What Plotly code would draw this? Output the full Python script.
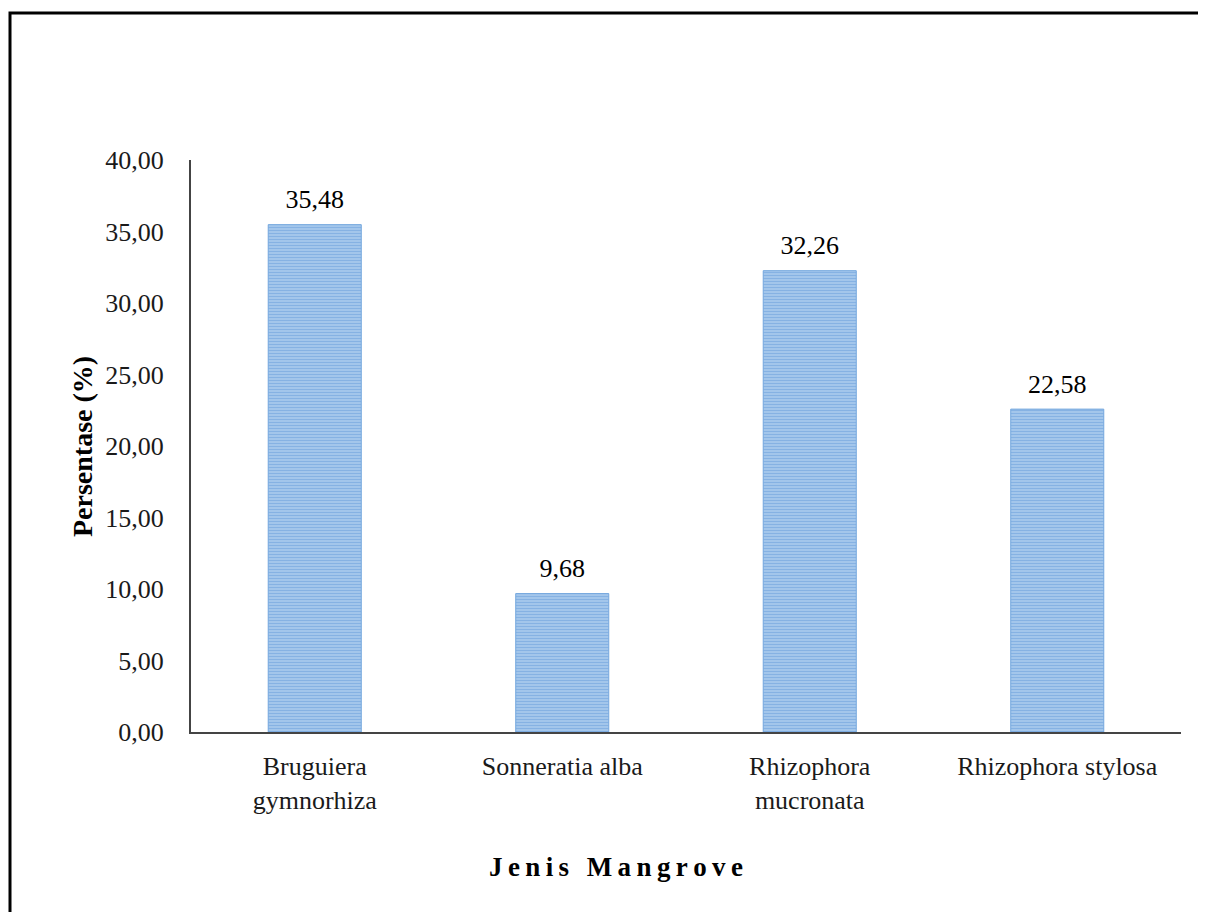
import plotly.graph_objects as go

categories = ["Bruguiera<br>gymnorhiza", "Sonneratia alba", "Rhizophora<br>mucronata", "Rhizophora stylosa"]
values = [35.48, 9.68, 32.26, 22.58]
y_ticks = [0, 5, 10, 15, 20, 25, 30, 35, 40]

FONT = "Liberation Serif, Times New Roman, serif"

OFF = 8  # page body margin
W, H = 1206 - OFF, 912 - OFF
L, T = 191 - OFF, 160 - OFF
R = W - (1181 - OFF)
B = H - (732 - OFF)
pw, ph = W - L - R, H - T - B

def px_x(p):
    return (p - OFF - L) / pw

def px_y(p):
    return (H - B - (p - OFF)) / ph

fig = go.Figure()
fig.add_trace(go.Bar(
    x=categories,
    y=values,
    width=0.376,
    marker=dict(
        color="#8DB6E3",
        line=dict(color="#74A7DE", width=1),
        pattern=dict(shape="-", fgcolor="#5F98D8", bgcolor="#ADCDEE", size=3, solidity=0.5),
    ),
    hoverinfo="skip",
))
fig.add_trace(go.Scatter(
    x=categories,
    y=values,
    mode="markers+text",
    marker=dict(size=14, opacity=0),
    texttemplate="%{y:.2f}",
    textposition="top center",
    textfont=dict(family=FONT, size=26, color="#000000"),
    cliponaxis=False,
    hoverinfo="skip",
))

fig.update_layout(
    width=W, height=H,
    margin=dict(l=L, r=R, t=T, b=B),
    paper_bgcolor="white",
    plot_bgcolor="white",
    separators=",.",
    showlegend=False,
    font=dict(family=FONT, size=26, color="#000000"),
)
fig.update_yaxes(
    range=[0, 40],
    tickvals=y_ticks,
    tickformat=".2f",
    showgrid=False,
    zeroline=False,
    showline=True,
    linecolor="#444444",
    linewidth=2,
    ticks="",
    ticklabelstandoff=20,
    tickfont=dict(family=FONT, size=26, color="#1a1a1a"),
)
fig.update_xaxes(
    showgrid=False,
    showline=True,
    linecolor="#444444",
    linewidth=2,
    ticks="",
    ticklabelstandoff=10,
    tickfont=dict(family=FONT, size=26, color="#1a1a1a"),
)

ts = "\u2009"
x_title = (ts + " " + ts).join(ts.join(list(w)) for w in "Jenis Mangrove".split(" "))
fig.add_annotation(
    text="<b>" + x_title + "</b>", xref="paper", yref="paper",
    x=px_x(616), y=px_y(867), showarrow=False,
    font=dict(family=FONT, size=27, color="#000000"),
    xanchor="center", yanchor="middle",
)
fig.add_annotation(
    text="<b>Persentase (%)</b>", xref="paper", yref="paper",
    x=px_x(82), y=px_y(447), showarrow=False, textangle=-90,
    font=dict(family=FONT, size=28, color="#000000"),
    xanchor="center", yanchor="middle",
)

fig.add_shape(
    type="rect", xref="paper", yref="paper",
    x0=px_x(10), x1=px_x(1240), y0=px_y(960), y1=px_y(13),
    line=dict(color="#000000", width=3), fillcolor="rgba(0,0,0,0)", layer="above",
)

fig.write_html("out.html")
